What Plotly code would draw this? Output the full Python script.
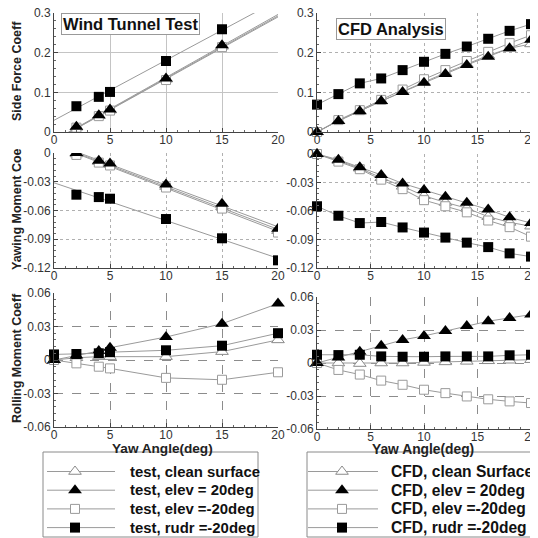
import numpy as np
import plotly.graph_objects as go

# ---------------- data ----------------
series_names_test = ["test, clean surface", "test, elev = 20deg", "test, elev =-20deg", "test, rudr =-20deg"]
series_names_cfd = ["CFD, clean Surface", "CFD, elev = 20deg", "CFD, elev =-20deg", "CFD, rudr =-20deg"]

# Wind tunnel test
test_side_x = [2, 4, 5, 10, 15]
test_side_clean = [0.012, 0.041, 0.055, 0.133, 0.216]
test_side_elev_p20 = [0.013, 0.042, 0.057, 0.135, 0.219]
test_side_elev_m20 = [0.011, 0.040, 0.054, 0.131, 0.214]
test_side_rudr = [0.065, 0.0886, 0.101, 0.179, 0.259]

test_yaw_x = [2, 4, 5, 10, 15, 20]
test_yaw_clean = [-0.001, -0.009, -0.012, -0.035, -0.056, -0.081]
test_yaw_elev_p20 = [0.0, -0.008, -0.011, -0.033, -0.053, -0.079]
test_yaw_elev_m20 = [-0.002, -0.010, -0.013, -0.036, -0.058, -0.083]
test_yaw_rudr = [-0.0435, -0.046, -0.0477, -0.0689, -0.089, -0.112]

test_roll_x = [0, 2, 4, 5, 10, 15, 20]
test_roll_clean = [0.0, 0.002, 0.003, 0.003, 0.003, 0.0075, 0.018]
test_roll_elev_p20 = [0.0, 0.004, 0.008, 0.011, 0.0206, 0.0325, 0.0505]
test_roll_elev_m20 = [0.0, -0.003, -0.006, -0.0075, -0.016, -0.0177, -0.011]
test_roll_rudr = [0.005, 0.0054, 0.006, 0.007, 0.0087, 0.0128, 0.024]

# CFD analysis
cfd_x = [0, 2, 4, 6, 8, 10, 12, 14, 16, 18, 20]
cfd_side_clean = [0.0, 0.028, 0.053, 0.078, 0.102, 0.126, 0.149, 0.171, 0.193, 0.211, 0.222]
cfd_side_elev_p20 = [0.0, 0.028, 0.0525, 0.078, 0.101, 0.124, 0.146, 0.169, 0.190, 0.211, 0.2325]
cfd_side_elev_m20 = [0.0, 0.030, 0.055, 0.081, 0.107, 0.133, 0.156, 0.179, 0.202, 0.224, 0.244]
cfd_side_rudr = [0.069, 0.0955, 0.1226, 0.135, 0.156, 0.177, 0.197, 0.2155, 0.235, 0.255, 0.272]

cfd_yaw_clean = [0.0, -0.007, -0.015, -0.025, -0.034, -0.044, -0.051, -0.057, -0.066, -0.072, -0.076]
cfd_yaw_elev_p20 = [0.0, -0.006, -0.014, -0.022, -0.031, -0.038, -0.045, -0.0514, -0.0585, -0.0667, -0.0727]
cfd_yaw_elev_m20 = [0.0, -0.008, -0.016, -0.027, -0.037, -0.0486, -0.055, -0.0614, -0.070, -0.077, -0.087]
cfd_yaw_rudr = [-0.055, -0.065, -0.0727, -0.0716, -0.0773, -0.0827, -0.088, -0.0933, -0.098, -0.1046, -0.108]

cfd_roll_clean = [0.0, 0.0, -0.0005, 0.0, 0.0, 0.0005, 0.001, 0.0015, 0.002, 0.0025, 0.003]
cfd_roll_elev_p20 = [0.0, 0.005, 0.0102, 0.0156, 0.021, 0.0246, 0.029, 0.0336, 0.038, 0.041, 0.044]
cfd_roll_elev_m20 = [0.0, -0.0063, -0.0105, -0.016, -0.0198, -0.0243, -0.0274, -0.0304, -0.033, -0.0349, -0.0364]
cfd_roll_rudr = [0.0075, 0.0072, 0.0075, 0.006, 0.0057, 0.0057, 0.006, 0.006, 0.006, 0.007, 0.0075]

x_ticks = [0, 5, 10, 15, 20]
x_ticklabels = ["0", "5", "10", "15", "20"]
side_ticks = [0, 0.1, 0.2, 0.3]
side_ticklabels = ["0", "0.1", "0.2", "0.3"]
yaw_ticks = [-0.12, -0.09, -0.06, -0.03, 0]
yaw_ticklabels = ["-0.12", "-0.09", "-0.06", "-0.03", "0"]
roll_ticks = [-0.06, -0.03, 0, 0.03, 0.06]
roll_ticklabels = ["-0.06", "-0.03", "0", "0.03", "0.06"]

# ---------------- styles ----------------
OFF = 8            # page body margin in the browser window
W = H = 538 - OFF  # figure size so that it ends exactly at the window edge
FONT = "Liberation Sans, Arial, sans-serif"
LINE_C = "#9a9a9a"

marker_styles = [
    dict(symbol="triangle-up", size=11, color="white", line=dict(color="#8a8a8a", width=1)),
    dict(symbol="triangle-up", size=12, color="black", line=dict(width=0)),
    dict(symbol="square", size=9, color="white", line=dict(color="#9a9a9a", width=1)),
    dict(symbol="square", size=10, color="black", line=dict(width=0)),
]
draw_order = [0, 2, 1, 3]  # open markers below filled ones


def px_x(p):
    return (p - OFF) / W


def px_y(p):
    return 1 - (p - OFF) / H


fig = go.Figure()


# axis ids: 1 TL, 2 TR, 3 ML, 4 MR, 5 BL, 6 BR, 7 legend overlay
def ax(i):
    return ("x" if i == 1 else f"x{i}"), ("y" if i == 1 else f"y{i}")


def add_fit_panel(i, xs, ys_list):
    xa, ya = ax(i)
    xfit = np.array([0.0, 21.0])
    for k in draw_order:
        coef = np.polyfit(xs, ys_list[k], 1)
        fig.add_trace(go.Scatter(x=xfit, y=np.polyval(coef, xfit), mode="lines",
                                 line=dict(color=LINE_C, width=1), xaxis=xa, yaxis=ya,
                                 showlegend=False, hoverinfo="skip"))
    for k in draw_order:
        fig.add_trace(go.Scatter(x=xs, y=ys_list[k], mode="markers", marker=marker_styles[k],
                                 xaxis=xa, yaxis=ya, showlegend=False, cliponaxis=True))


def add_line_panel(i, xs, ys_list, names):
    xa, ya = ax(i)
    for k in draw_order:
        fig.add_trace(go.Scatter(x=xs, y=ys_list[k], mode="lines+markers",
                                 line=dict(color=LINE_C, width=1), marker=marker_styles[k],
                                 xaxis=xa, yaxis=ya, cliponaxis=False, name=names[k],
                                 showlegend=False))


add_fit_panel(1, test_side_x, [test_side_clean, test_side_elev_p20, test_side_elev_m20, test_side_rudr])
add_line_panel(2, cfd_x, [cfd_side_clean, cfd_side_elev_p20, cfd_side_elev_m20, cfd_side_rudr], series_names_cfd)
add_fit_panel(3, test_yaw_x, [test_yaw_clean, test_yaw_elev_p20, test_yaw_elev_m20, test_yaw_rudr])
add_line_panel(4, cfd_x, [cfd_yaw_clean, cfd_yaw_elev_p20, cfd_yaw_elev_m20, cfd_yaw_rudr], series_names_cfd)
add_line_panel(5, test_roll_x, [test_roll_clean, test_roll_elev_p20, test_roll_elev_m20, test_roll_rudr],
               series_names_test)
add_line_panel(6, cfd_x, [cfd_roll_clean, cfd_roll_elev_p20, cfd_roll_elev_m20, cfd_roll_rudr], series_names_cfd)

# ---------------- legends (drawn on a hidden pixel-scaled overlay axis) ----------------
LEG_ROW0, LEG_DY = 471.5, 18.7
legend_boxes = [
    # names, box (x0, y0, x1, y1), sample line x0, x1, marker x, text x, font size
    (series_names_test, (43, 452, 258, 537), 47, 115, 75, 127.5, 14.9),
    (series_names_cfd, (307, 452, 533, 537), 308, 378, 342, 388.5, 15.6),
]
shapes = []
ann = []
for names, box, lx0, lx1, mx, tx, fs in legend_boxes:
    shapes.append(dict(type="rect", xref="paper", yref="paper", x0=px_x(box[0]), x1=px_x(box[2]),
                       y0=px_y(box[3]), y1=px_y(box[1]), line=dict(color="#8a8a8a", width=1),
                       fillcolor="white", layer="below"))
    for k, name in enumerate(names):
        ry = LEG_ROW0 + k * LEG_DY
        fig.add_trace(go.Scatter(x=[lx0, lx1], y=[ry, ry], mode="lines", line=dict(color=LINE_C, width=1),
                                 xaxis="x7", yaxis="y7", showlegend=False, hoverinfo="skip"))
        fig.add_trace(go.Scatter(x=[mx], y=[ry], mode="markers", marker=marker_styles[k],
                                 xaxis="x7", yaxis="y7", showlegend=False, hoverinfo="skip"))
        ann.append(dict(text=f"<b>{name}</b>", x=tx, y=ry, xref="x7", yref="y7", showarrow=False,
                        xanchor="left", yanchor="middle", font=dict(family=FONT, size=fs, color="#111")))

# ---------------- axes ----------------
left_dom = [px_x(54), px_x(278)]
right_dom = [px_x(317), px_x(531)]
dom_y = {
    1: [px_y(132), px_y(13)], 2: [px_y(132), px_y(13)],
    3: [px_y(268), px_y(153)], 4: [px_y(268), px_y(154)],
    5: [px_y(427), px_y(293)], 6: [px_y(429), px_y(297)],
}
grid = {
    1: dict(griddash="solid", gridcolor="#c4c4c4"),
    2: dict(griddash="dot", gridcolor="#b0b0b0"),
    3: dict(griddash="dot", gridcolor="#b0b0b0"),
    4: dict(griddash="dot", gridcolor="#b0b0b0"),
    5: dict(griddash="dash", gridcolor="#8c8c8c"),
    6: dict(griddash="dash", gridcolor="#8c8c8c"),
}
yinfo = {
    1: (side_ticks, side_ticklabels, [0, 0.3], 0.02),
    2: (side_ticks, side_ticklabels, [0, 0.3], 0.02),
    3: (yaw_ticks, yaw_ticklabels, [-0.12, 0], 0.006),
    4: (yaw_ticks, yaw_ticklabels, [-0.12, 0], 0.006),
    5: (roll_ticks, roll_ticklabels, [-0.06, 0.06], 0.006),
    6: (roll_ticks, roll_ticklabels, [-0.06, 0.06], 0.006),
}
tickfont = dict(family=FONT, size=12, color="#333333")
layout = {}
for i in range(1, 7):
    xa, ya = ax(i)
    xname = "xaxis" if i == 1 else f"xaxis{i}"
    yname = "yaxis" if i == 1 else f"yaxis{i}"
    g = grid[i]
    layout[xname] = dict(domain=left_dom if i % 2 == 1 else right_dom, anchor=ya, range=[0, 20],
                         tickvals=x_ticks, ticktext=x_ticklabels, ticks="inside", ticklen=4,
                         tickcolor="#444", showline=True, linecolor="#444", linewidth=1,
                         showgrid=True, gridwidth=1, zeroline=False, tickfont=tickfont,
                         ticklabeloverflow="allow", ticklabelstandoff=-3,
                         minor=dict(dtick=1, ticks="inside", ticklen=2, tickcolor="#666", showgrid=False),
                         fixedrange=True, automargin=False, **g)
    tv, tt, rng, mdt = yinfo[i]
    layout[yname] = dict(domain=dom_y[i], anchor=xa, range=rng, tickvals=tv, ticktext=tt,
                         ticks="inside", ticklen=4, tickcolor="#444", showline=True, linecolor="#444",
                         linewidth=1, showgrid=True, gridwidth=1, zeroline=False, tickfont=tickfont,
                         ticklabeloverflow="allow",
                         minor=dict(dtick=mdt, ticks="inside", ticklen=2, tickcolor="#666", showgrid=False),
                         fixedrange=True, automargin=False, **g)
# overlay axis whose units are window pixels (used only for the legend samples)
layout["xaxis7"] = dict(domain=[0, 1], range=[OFF, OFF + W], anchor="y7", visible=False, fixedrange=True)
layout["yaxis7"] = dict(domain=[0, 1], range=[OFF + H, OFF], anchor="x7", visible=False, fixedrange=True)

ytitle_font = dict(family=FONT, size=12.5, color="#222")
for text, yc in [("<b>Side Force Coeff</b>", 71), ("<b>Yawing Moment Coe</b>", 209),
                 ("<b>Rolling Moment Coeff</b>", 358)]:
    ann.append(dict(text=text, x=px_x(17), y=px_y(yc), xref="paper", yref="paper", showarrow=False,
                    textangle=-90, font=ytitle_font, xanchor="center", yanchor="middle"))
for xc, yc, fs in [(162, 448, 13.6), (423, 449.5, 13.8)]:
    ann.append(dict(text="<b>Yaw Angle(deg)</b>", x=px_x(xc), y=px_y(yc), xref="paper", yref="paper",
                    showarrow=False, font=dict(family=FONT, size=fs, color="#222"),
                    xanchor="center", yanchor="middle"))
ann.append(dict(text="<b>Wind Tunnel Test</b>", x=px_x(130), y=px_y(24), xref="paper", yref="paper",
                showarrow=False, font=dict(family=FONT, size=16.5, color="#111"), bgcolor="white",
                bordercolor="#999", borderwidth=1, borderpad=1, xanchor="center", yanchor="middle"))
ann.append(dict(text="<b>CFD Analysis</b>", x=px_x(390.5), y=px_y(29), xref="paper", yref="paper",
                showarrow=False, font=dict(family=FONT, size=16.5, color="#111"), bgcolor="white",
                bordercolor="#999", borderwidth=1, borderpad=1, xanchor="center", yanchor="middle"))

fig.update_layout(width=W, height=H, autosize=False, margin=dict(l=0, r=0, t=0, b=0, pad=0),
                  paper_bgcolor="white", plot_bgcolor="rgba(0,0,0,0)", annotations=ann, shapes=shapes,
                  showlegend=False, font=dict(family=FONT), **layout)

fig.write_html("out.html")
